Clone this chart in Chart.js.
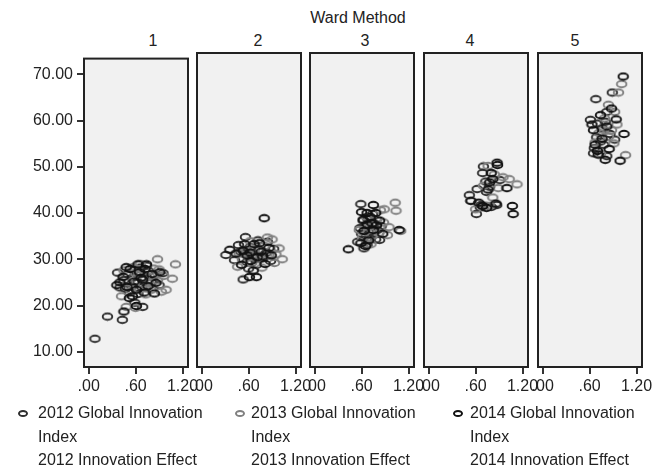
<!DOCTYPE html>
<html>
<head>
<meta charset="utf-8">
<script src="https://cdn.jsdelivr.net/npm/chart.js@4.4.0/dist/chart.umd.min.js"></script>
<style>
  body { margin: 0; background: #fff; }
  #wrap { position: relative; width: 660px; height: 471px; overflow: hidden;
          font-family: "Liberation Sans", Arial, sans-serif; color: #222; }
  canvas { position: absolute; }
  .lbl { position: absolute; font-size: 16px; line-height: 16px; white-space: nowrap;
         transform: translate(-50%, -50%); }
  .leg { position: absolute; font-size: 16px; line-height: 23.5px; white-space: nowrap; }
  .mk { position: absolute; width: 6px; height: 3px; border: 2px solid #333; border-radius: 50%; }
</style>
</head>
<body>
<div id="wrap">
  <div class="lbl" style="left:358px;top:18px">Ward Method</div>
  <div class="lbl" style="left:153px;top:41px">1</div>
  <div class="lbl" style="left:258px;top:41px">2</div>
  <div class="lbl" style="left:365px;top:41px">3</div>
  <div class="lbl" style="left:470px;top:41px">4</div>
  <div class="lbl" style="left:575px;top:41px">5</div>
</div>
<script>
// categories / series
const clusters = ["1", "2", "3", "4", "5"];
const years = ["2012", "2013", "2014"];
const seriesColors = ["#2e2e2e", "#808080", "#111111"];
const xTicks = [0, 0.6, 1.2];
const yTicks = [10, 20, 30, 40, 50, 60, 70];

// [Innovation Effect, Global Innovation Index] par cluster et par annee
const c1_2012 = [[0.08,12.8],[0.24,17.6],[0.43,16.9],[0.59,20.6],[0.69,19.7],[0.37,27.1],[0.40,23.9],[0.45,25.5],[0.50,26.8],[0.55,24.2],[0.58,27.6],[0.62,25.1],[0.66,28.2],[0.70,26.0],[0.73,23.8],[0.77,27.4],[0.80,25.0],[0.85,26.6],[0.90,24.4],[0.52,22.8],[0.63,22.5],[0.47,23.6],[0.74,28.6],[0.95,27.0],[0.56,26.0],[0.68,24.0]];
const c1_2013 = [[0.88,30.0],[1.11,28.9],[0.99,23.4],[1.07,25.8],[0.60,19.5],[0.48,19.7],[0.42,22.0],[0.50,25.0],[0.57,28.3],[0.64,26.6],[0.70,24.6],[0.78,26.2],[0.83,28.0],[0.88,25.4],[0.93,23.0],[0.96,26.4],[0.54,23.2],[0.60,27.0],[0.73,22.4],[0.80,23.4],[0.66,29.0],[0.45,27.6],[0.90,27.8],[0.76,25.0]];
const c1_2014 = [[0.45,18.7],[0.52,21.6],[0.61,19.9],[0.74,28.9],[0.36,24.4],[0.44,26.2],[0.49,24.0],[0.53,27.9],[0.58,25.2],[0.61,23.4],[0.65,27.2],[0.69,25.6],[0.72,27.9],[0.76,24.2],[0.81,26.8],[0.86,24.9],[0.91,27.2],[0.40,25.0],[0.56,22.0],[0.71,22.8],[0.63,28.9],[0.84,22.6],[0.48,28.3],[0.67,26.0]];

const c2_2012 = [[0.31,30.5],[0.42,29.4],[0.53,25.3],[0.56,34.3],[0.84,33.3],[0.50,31.2],[0.58,29.0],[0.62,32.2],[0.66,30.4],[0.70,28.4],[0.74,31.6],[0.78,29.8],[0.83,31.0],[0.88,29.2],[0.60,27.6],[0.47,32.6],[0.72,33.6],[0.92,31.8],[0.65,30.0],[0.55,30.8]];
const c2_2013 = [[1.03,29.6],[0.99,31.9],[0.46,28.0],[0.90,33.8],[0.95,30.6],[0.62,33.4],[0.68,31.8],[0.74,29.6],[0.80,32.4],[0.86,30.4],[0.57,31.6],[0.52,29.6],[0.64,28.8],[0.77,27.8],[0.93,28.8],[0.70,30.6],[0.84,34.2],[0.60,30.0],[0.48,30.8]];
const c2_2014 = [[0.80,38.3],[0.61,25.8],[0.70,25.8],[0.55,32.8],[0.36,31.6],[0.44,30.8],[0.51,28.4],[0.58,30.4],[0.63,29.2],[0.67,32.8],[0.71,30.0],[0.76,31.2],[0.81,28.6],[0.86,32.0],[0.66,27.2],[0.74,33.0],[0.53,31.4],[0.89,30.4],[0.62,31.0],[0.78,30.2]];

const c3_2012 = [[0.59,41.3],[0.63,31.9],[0.67,32.6],[0.83,33.7],[0.55,33.3],[0.60,35.0],[0.64,36.6],[0.68,38.2],[0.72,35.4],[0.76,37.2],[0.80,35.8],[0.70,34.0],[0.62,37.8],[0.74,39.2],[0.85,36.6],[0.58,36.2],[0.66,34.6],[0.78,33.8]];
const c3_2013 = [[1.03,41.6],[1.04,39.9],[0.89,40.2],[1.10,35.6],[0.93,34.7],[0.84,40.0],[0.66,38.6],[0.70,36.4],[0.74,34.6],[0.79,38.0],[0.88,37.4],[0.61,34.2],[0.82,35.2],[0.95,36.4],[0.72,32.8],[0.57,35.8]];
const c3_2014 = [[0.43,31.7],[0.75,41.1],[1.08,35.8],[0.78,39.4],[0.67,39.4],[0.59,33.0],[0.63,35.6],[0.67,37.0],[0.71,38.6],[0.75,35.8],[0.79,36.8],[0.69,33.6],[0.83,37.8],[0.62,38.0],[0.73,37.2],[0.65,32.4],[0.87,35.0],[0.60,39.6]];

const c4_2012 = [[0.70,49.3],[0.69,47.9],[0.73,46.1],[0.91,46.4],[0.62,44.5],[0.52,43.2],[0.74,43.9],[0.67,41.1],[0.61,39.2],[0.87,41.1],[0.80,40.7],[0.78,45.0],[0.66,40.6]];
const c4_2013 = [[0.76,49.4],[1.03,46.6],[1.13,45.5],[0.89,44.7],[0.82,42.7],[0.60,40.2],[0.78,40.9],[0.72,41.0],[0.84,47.6],[0.54,42.0],[0.70,45.2],[0.95,47.0]];
const c4_2014 = [[0.875,50.1],[0.88,49.6],[0.80,47.9],[0.78,45.9],[1.00,44.7],[0.54,42.0],[0.69,40.9],[0.74,40.5],[1.07,40.9],[1.08,39.2],[0.64,41.6],[0.82,46.6],[0.86,41.4],[0.76,44.4]];

const c5_2012 = [[0.89,65.0],[0.68,63.6],[0.82,60.9],[0.61,59.2],[0.76,57.4],[0.69,55.5],[0.78,53.9],[0.65,52.1],[0.82,51.5],[0.70,58.4],[0.86,56.2],[0.74,54.6],[0.66,53.2],[0.80,58.8],[0.92,55.0]];
const c5_2013 = [[1.01,66.8],[1.06,51.7],[0.97,65.0],[0.84,62.4],[0.92,60.9],[0.79,59.5],[0.88,57.0],[0.84,55.6],[0.91,54.2],[0.74,52.0],[0.72,56.4],[0.95,58.2],[0.67,54.4],[0.78,57.0]];
const c5_2014 = [[1.03,68.4],[0.74,60.2],[0.94,59.3],[0.65,57.0],[1.04,56.2],[0.67,53.9],[0.99,50.5],[0.80,50.7],[0.71,51.8],[0.85,53.0],[0.63,58.2],[0.76,55.2],[0.88,61.6],[0.82,57.8],[0.70,52.6]];

const panelData = [
  [c1_2012, c1_2013, c1_2014],
  [c2_2012, c2_2013, c2_2014],
  [c3_2012, c3_2013, c3_2014],
  [c4_2012, c4_2013, c4_2014],
  [c5_2012, c5_2013, c5_2014]
];

// mise en page des panneaux
const panelLefts = [84, 197, 310, 424, 538];
const panelW = 104, panelTop = 53, panelH = 314;
const padT = 8, padS = 20, xAxisH = 40;

Chart.defaults.font.family = '"Liberation Sans", Arial, sans-serif';
Chart.defaults.font.size = 16;
Chart.defaults.color = "#222";

// petit anneau elliptique pour les points
function ringImage(color) {
  const c = document.createElement("canvas");
  c.width = 13; c.height = 10;
  const g = c.getContext("2d");
  g.strokeStyle = color;
  g.lineWidth = 1.9;
  g.beginPath();
  g.ellipse(6.5, 5, 4.8, 3.2, 0, 0, Math.PI * 2);
  g.stroke();
  return c;
}

// fond gris + cadre du panneau
const panelFrame = {
  id: "panelFrame",
  beforeDraw(chart) {
    const a = chart.chartArea, ctx = chart.ctx;
    ctx.save();
    ctx.fillStyle = "#f1f1f1";
    ctx.fillRect(a.left, a.top, a.right - a.left, a.bottom - a.top);
    ctx.restore();
  },
  afterDatasetsDraw(chart) {
    const a = chart.chartArea, ctx = chart.ctx;
    ctx.save();
    ctx.strokeStyle = "#222";
    ctx.lineWidth = 2;
    ctx.strokeRect(a.left, a.top, a.right - a.left, a.bottom - a.top);
    ctx.restore();
  }
};

const wrap = document.getElementById("wrap");

for (let i = 0; i < clusters.length; i++) {
  const withY = (i === 0);
  const canvas = document.createElement("canvas");
  const left = withY ? 0 : panelLefts[i] - padS;
  const w = withY ? panelLefts[i] + panelW + padS : padS + panelW + padS;
  const h = padT + panelH + xAxisH;
  canvas.width = w; canvas.height = h;
  canvas.style.left = left + "px";
  canvas.style.top = (panelTop - padT) + "px";
  wrap.appendChild(canvas);

  const datasets = [];
  for (let k = years.length - 1; k >= 0; k--) {
    datasets.push({
      label: years[k],
      data: panelData[i][k].map(p => ({ x: p[0], y: p[1] })),
      pointStyle: ringImage(seriesColors[k]),
      pointRadius: 5,
      pointHoverRadius: 5
    });
  }

  new Chart(canvas, {
    type: "scatter",
    data: { datasets: datasets },
    options: {
      responsive: false,
      animation: false,
      layout: { padding: { top: padT, bottom: 0, left: withY ? 0 : padS, right: padS } },
      plugins: { legend: { display: false }, tooltip: { enabled: false } },
      scales: {
        x: {
          type: "linear",
          min: -0.06, max: 1.27,
          afterBuildTicks: s => { s.ticks = xTicks.map(v => ({ value: v })); },
          afterFit: s => { s.height = xAxisH; },
          ticks: {
            autoSkip: false, maxRotation: 0, padding: 3,
            callback: v => v.toFixed(2).replace(/^0/, "")
          },
          grid: { drawOnChartArea: false, drawTicks: true, tickLength: 7, color: "#333", lineWidth: 2 },
          border: { display: false }
        },
        y: {
          type: "linear",
          display: withY,
          min: 6.7, max: 73.4,
          afterBuildTicks: s => { s.ticks = yTicks.map(v => ({ value: v })); },
          afterFit: s => { s.width = withY ? panelLefts[0] : 0; },
          ticks: { autoSkip: false, padding: 4, callback: v => v.toFixed(2) },
          grid: { drawOnChartArea: false, drawTicks: true, tickLength: 7, color: "#333", lineWidth: 2 },
          border: { display: false }
        }
      }
    },
    plugins: [panelFrame]
  });
}

// legende
const legendX = [[23, 38], [240, 251], [458, 470]];
const legendY = 401;
for (let k = 0; k < years.length; k++) {
  const mk = document.createElement("div");
  mk.className = "mk";
  mk.style.borderColor = seriesColors[k];
  mk.style.left = (legendX[k][0] - 5) + "px";
  mk.style.top = (legendY + 12 - 3.5) + "px";
  wrap.appendChild(mk);

  const txt = document.createElement("div");
  txt.className = "leg";
  txt.style.left = legendX[k][1] + "px";
  txt.style.top = legendY + "px";
  txt.innerHTML = years[k] + " Global Innovation<br>Index<br>" + years[k] + " Innovation Effect";
  wrap.appendChild(txt);
}
</script>
</body>
</html>
